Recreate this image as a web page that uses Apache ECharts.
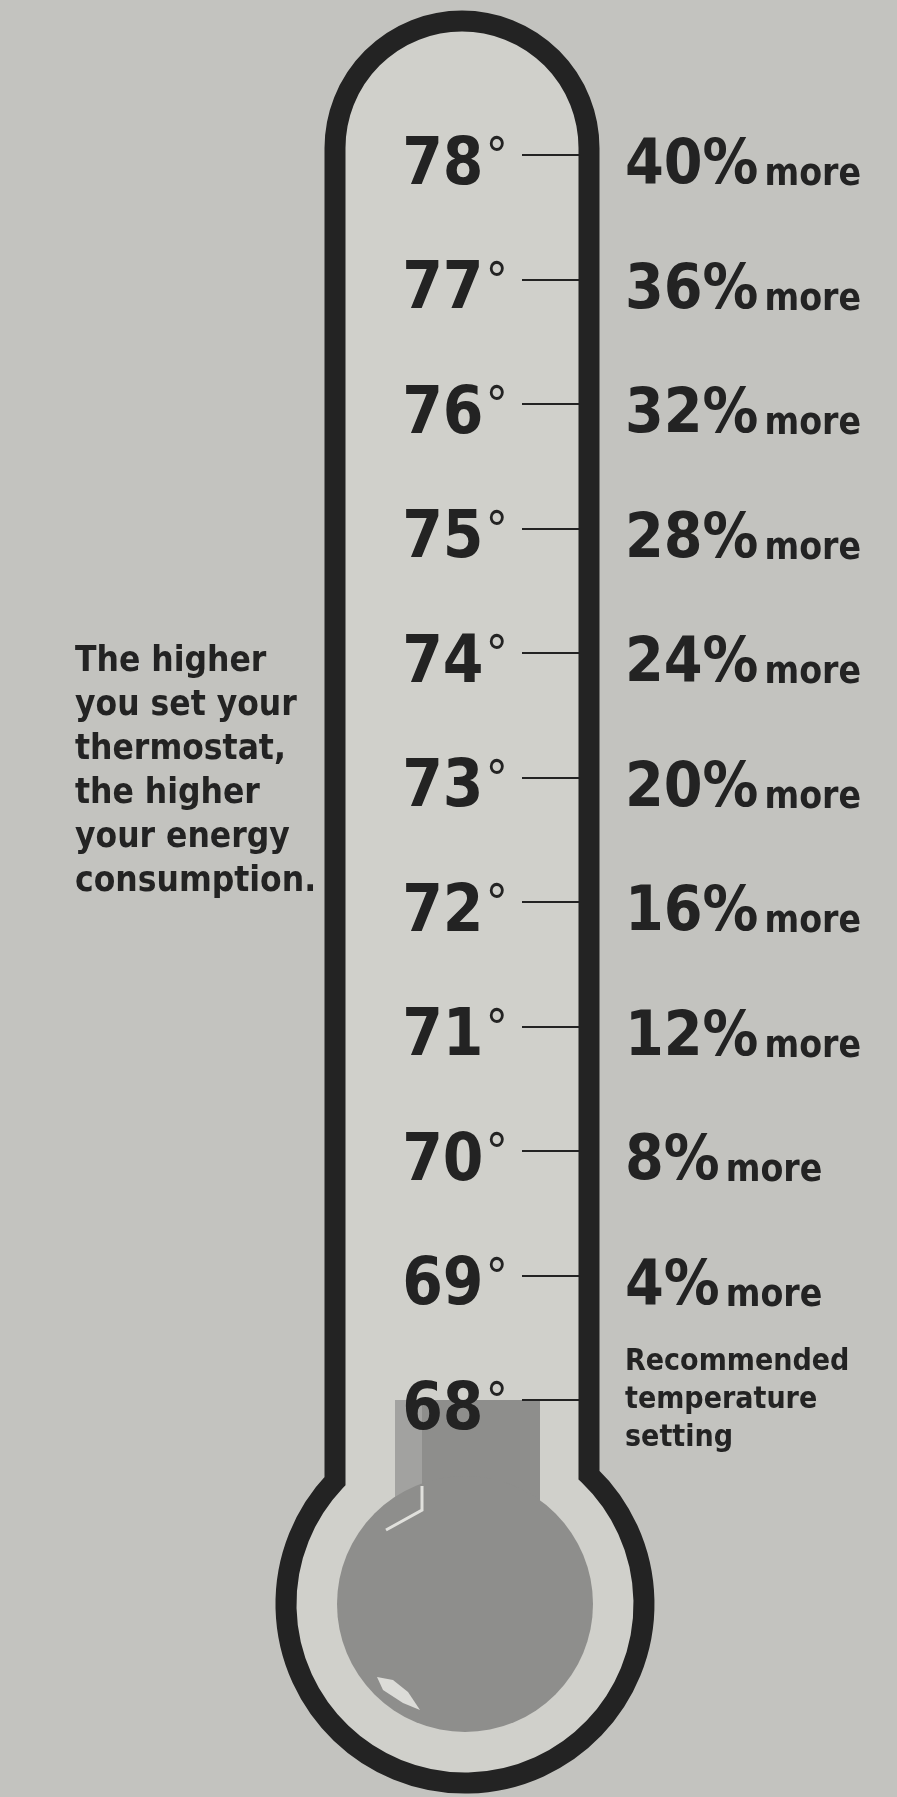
<!DOCTYPE html>
<html>
<head>
<meta charset="utf-8">
<title>Thermostat</title>
<script src="https://cdn.jsdelivr.net/npm/echarts@6/dist/echarts.min.js"></script>
<style>
  html, body { margin: 0; padding: 0; background: #c3c3bf; }
  #chart { width: 897px; height: 1797px; }
</style>
</head>
<body>
<div id="chart"></div>
<script>
// thermostat setting (deg F) and extra energy use vs. 68
var temps = [68, 69, 70, 71, 72, 73, 74, 75, 76, 77, 78];
var morePct = [null, 4, 8, 12, 16, 20, 24, 28, 32, 36, 40];
var recommended = 68;
var recommendedText = ['Recommended', 'temperature', 'setting'];
var note = ['The higher', 'you set your', 'thermostat,', 'the higher', 'your energy', 'consumption.'];

var FONT = "'Liberation Sans Narrow', 'DejaVu Sans Condensed', Roboto, sans-serif";
var INK = '#232323';
var MERC = '#8e8e8c';

// outline of the glass: tube with round top, round bulb
echarts.graphic.registerShape('thermoGlass', echarts.graphic.extendPath(
  'M335 1481 L335 148 A127 127 0 0 1 589 148 L589 1475 A179 179 0 1 1 335 1481 Z', {}));

var chart = echarts.init(document.getElementById('chart'));

chart.setOption({
  backgroundColor: '#c3c3bf',
  animation: false,
  title: {
    text: note.join('\n'),
    left: 75,
    top: 640,
    padding: 0,
    textStyle: {
      fontFamily: FONT, fontWeight: 'bold', fontSize: 35, lineHeight: 44, color: INK
    }
  },
  grid: { left: 395, right: 357, top: 155, bottom: 148, outerBoundsMode: 'none' },
  xAxis: { type: 'category', data: ['now'], show: false },
  yAxis: [{
    type: 'value', min: 66, max: 78, position: 'right', offset: 40, z: 10,
    splitLine: { show: false },
    axisLine: { show: false },
    axisTick: { show: true, inside: true, length: 58, customValues: temps,
      lineStyle: { color: INK, width: 2 } },
    axisLabel: {
      inside: true, margin: 72, customValues: temps,
      formatter: function (v) { return '{t|' + v + '}{d|°}'; },
      rich: {
        t: { fontFamily: FONT, fontWeight: 'bold', fontSize: 65, color: INK, padding: [24, 0, 0, 0], verticalAlign: 'top' },
        d: { fontFamily: FONT, fontWeight: 'normal', fontSize: 50, color: INK, padding: [25, 0, 0, 2], verticalAlign: 'top' }
      }
    }
  }, {
    type: 'value', min: 66, max: 78, position: 'right', offset: 40, z: 10,
    splitLine: { show: false },
    axisLine: { show: false },
    axisTick: { show: false },
    axisLabel: {
      margin: 45, customValues: temps,
      formatter: function (v) {
        var p = morePct[temps.indexOf(v)];
        if (p == null) {
          return recommendedText.map(function (s) { return '{r|' + s + '}'; }).join('\n');
        }
        return '{p|' + p + '%}{m|more}';
      },
      rich: {
        p: { fontFamily: FONT, fontWeight: 'bold', fontSize: 62, color: INK, padding: [24, 0, 0, 0], verticalAlign: 'bottom' },
        m: { fontFamily: FONT, fontWeight: 'bold', fontSize: 37, color: INK, padding: [0, 0, 4, 6], verticalAlign: 'bottom' },
        r: { fontFamily: FONT, fontWeight: 'bold', fontSize: 30, lineHeight: 38, color: INK }
      }
    }
  }],
  series: [{
    type: 'bar',
    data: [recommended],
    barWidth: '100%',
    barCategoryGap: 0,
    z: 2,
    itemStyle: {
      color: {
        type: 'linear', x: 0, y: 0, x2: 1, y2: 0,
        colorStops: [
          { offset: 0, color: '#a2a2a0' },
          { offset: 0.186, color: '#a2a2a0' },
          { offset: 0.187, color: MERC },
          { offset: 1, color: MERC }
        ]
      }
    }
  }],
  graphic: [
    {
      type: 'thermoGlass', z: 1, silent: true,
      style: { fill: '#d0d0cb', stroke: INK, lineWidth: 21, lineJoin: 'miter' }
    },
    {
      type: 'circle', z: 3, silent: true,
      shape: { cx: 465, cy: 1604, r: 128 },
      style: { fill: MERC }
    },
    {
      type: 'polyline', z: 4, silent: true,
      shape: { points: [[422, 1486], [422, 1510], [386, 1530]] },
      style: { stroke: '#e0e0dc', lineWidth: 3, fill: null }
    },
    {
      type: 'polygon', z: 4, silent: true,
      shape: { points: [[377, 1677], [393, 1680], [408, 1692], [420, 1710], [403, 1703], [383, 1690]] },
      style: { fill: '#dcdcd8' }
    }
  ]
});
</script>
</body>
</html>
